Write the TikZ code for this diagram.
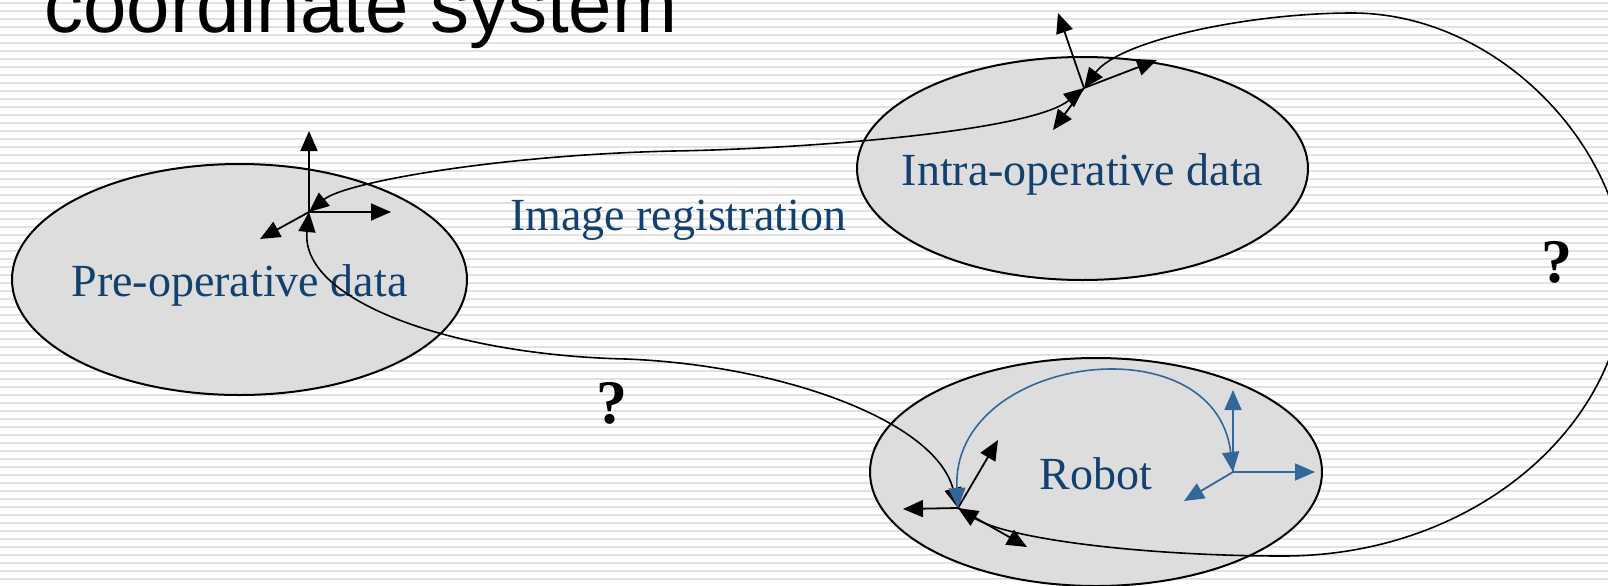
\documentclass[tikz,border=0pt]{standalone}
\usepackage{fontspec}
\usepackage{xcolor}
\usetikzlibrary{arrows.meta,calc,shapes.geometric}
\setmainfont{Liberation Serif}
\newfontfamily\titlefont{Liberation Sans}
\definecolor{labelblue}{HTML}{12406F}
\definecolor{axisblue}{HTML}{336699}
\definecolor{blobgray}{HTML}{DDDDDD}
\definecolor{stripegray}{HTML}{E2E2E2}
\tikzset{
	blob/.style={ellipse,draw,line width=1pt,fill=blobgray,inner sep=0pt},
	lbl/.style={inner sep=0pt,text=labelblue,font=\fontsize{23}{27}\selectfont,text height=17pt,text depth=0pt},
	qmark/.style={font=\bfseries\fontsize{31}{36}\selectfont,inner sep=0pt},
	axis/.style={line width=0.9pt,-{Triangle[length=10pt,width=8.5pt]}},
	link/.style={line width=0.8pt,{Triangle[length=10pt,width=8.5pt]}-{Triangle[length=10pt,width=8.5pt]}},
}

\begin{document}
\begin{tikzpicture}[x=0.5pt,y=-0.5pt]
			\useasboundingbox (0,0) rectangle (1608,585);
			\clip (0,0) rectangle (1608,585);
			\foreach \y in {3,11,...,585}
				\draw[stripegray,line width=1.2pt] (0,\y) -- (1608,\y);
			\node[anchor=base west,inner sep=0pt,font=\titlefont\fontsize{39}{44}\selectfont] (title) at (44,32) {coordinate system};
			%
			\node[blob,minimum width=227.5pt,minimum height=115.5pt] (pre) at (239.5,279.5) {};
			\node[blob,minimum width=225.5pt,minimum height=111.5pt] (intra) at (1082.5,168.5) {};
			\node[blob,minimum width=226pt,minimum height=114pt] (robot) at (1096,472) {};
			\node[lbl] (prelbl) at (pre.center) {Pre-operative data};
			\node[lbl] (intralbl) at (intra.center) {Intra-operative data};
			\node[lbl] (robotlbl) at (robot.center) {Robot};
			\node[lbl] (reg) at (678,213) {Image registration};
			\node[qmark] (q1) at (612,403) {?};
			\node[qmark] (q2) at (1557,262) {?};
			%
			\coordinate (o1) at (309,212);
			\coordinate (o2) at (1084,88);
			\coordinate (o3) at (958,508);
			\coordinate (o4) at (1233,472);
			\coordinate (m1) at (673,151);
			\coordinate (m2) at (626,359);
			\coordinate (top) at (1352,13);
			\coordinate (rgt) at (1625,277);
			\coordinate (bot) at (1283,556);
			%
			\draw[link] (o1) .. controls +(36,-30) and +(-173,4) .. (m1) .. controls +(127,-2) and +(-54,44) .. (o2);
			\draw[link] (o1) .. controls +(-9,88) and +(-176,-4) .. (m2) .. controls +(154,6) and +(-23,-88) .. (o3);
			\draw[link] (o2) .. controls +(36,-48) and +(-102,0) .. (top) .. controls +(148,0) and +(0,-127) .. (rgt)
				.. controls +(0,143) and +(197,0) .. (bot) .. controls +(-133,0) and +(52,32) .. (o3);
			%
			\coordinate (o1a) at ($(o1)+(0,-81)$);
			\coordinate (o1b) at ($(o1)+(82,0)$);
			\coordinate (o1c) at ($(o1)+(-49,27)$);
			\coordinate (o2a) at ($(o2)+(-26,-75)$);
			\coordinate (o2b) at ($(o2)+(73,-28)$);
			\coordinate (o2c) at ($(o2)+(-31,42)$);
			\coordinate (o3a) at ($(o3)+(-55,1)$);
			\coordinate (o3b) at ($(o3)+(40,-68)$);
			\coordinate (o3c) at ($(o3)+(69,39)$);
			\coordinate (o4a) at ($(o4)+(0,-82)$);
			\coordinate (o4b) at ($(o4)+(82,0)$);
			\coordinate (o4c) at ($(o4)+(-49,29)$);
			\foreach \o in {o1,o2,o3}
				\foreach \t in {a,b,c}
					\draw[axis] (\o) -- (\o\t);
			%
			\draw[link,axisblue] (o3) .. controls +(-8,-153) and +(-18,-152) .. (o4);
			\foreach \t in {a,b,c}
				\draw[axis,axisblue] (o4) -- (o4\t);
		\end{tikzpicture}
\end{document}
